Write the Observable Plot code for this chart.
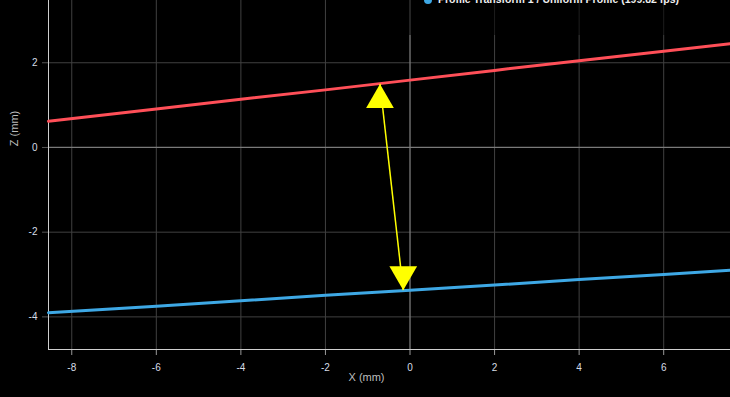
<!DOCTYPE html>
<html>
<head>
<meta charset="utf-8">
<script src="https://cdn.jsdelivr.net/npm/d3@7"></script>
<script src="https://cdn.jsdelivr.net/npm/@observablehq/plot@0.6"></script>
<style>
  html, body { margin: 0; padding: 0; background: #000; overflow: hidden; }
  #wrap { position: relative; width: 730px; height: 397px; }
  #legend { position: absolute; left: 400px; top: 0; width: 330px; height: 35px;
            background: rgba(0,0,0,0.55); overflow: hidden; }
  #legend .item { position: absolute; left: 24px; top: -7px; white-space: nowrap;
            font: bold 10.5px "Liberation Sans", Arial, sans-serif; color: #eee; }
  #legend .dot { display: inline-block; width: 8px; height: 8px; border-radius: 50%;
            background: #3ea8e5; margin-right: 6px; vertical-align: middle; }
</style>
</head>
<body>
<div id="wrap">
  <div id="chart"></div>
  <div id="legend"><div class="item"><span class="dot"></span>Profile Transform 1 / Uniform Profile (199.82 fps)</div></div>
</div>
<script>
// Data
const xDomain = [-8.55, 7.58];
const zDomain = [-4.77, 3.47];
const xTicks = [-8, -6, -4, -2, 0, 2, 4, 6];
const zTicks = [-4, -2, 0, 2];

const profileX = [-8.55, -6, -4, -2, 0, 2, 4, 6, 7.58];
const redZ  = [0.62, 0.91, 1.14, 1.36, 1.59, 1.82, 2.05, 2.27, 2.45];
const blueZ = [-3.90, -3.75, -3.62, -3.49, -3.37, -3.25, -3.12, -3.00, -2.90];

const arrowTop = {x: -0.71, z: 1.50};
const arrowBottom = {x: -0.16, z: -3.37};

const red = profileX.map((x, i) => ({x, z: redZ[i]}));
const blue = profileX.map((x, i) => ({x, z: blueZ[i]}));

const downTriangle = {
  draw(context, size) {
    const y = -Math.sqrt(size / (Math.sqrt(3) * 3));
    context.moveTo(0, -y * 2);
    context.lineTo(-Math.sqrt(3) * y, y);
    context.lineTo(Math.sqrt(3) * y, y);
    context.closePath();
  }
};

const chart = Plot.plot({
  width: 730,
  height: 397,
  marginLeft: 48,
  marginRight: 0,
  marginTop: 0,
  marginBottom: 48,
  style: {background: "#000", color: "#ccc", fontFamily: "'Liberation Sans', Arial, sans-serif", fontSize: "10px"},
  x: {domain: xDomain, label: null},
  y: {domain: zDomain, label: null},
  marks: [
    Plot.gridX(xTicks.filter(d => d !== 0), {stroke: "#404040", strokeOpacity: 1}),
    Plot.gridY(zTicks.filter(d => d !== 0), {stroke: "#404040", strokeOpacity: 1}),
    Plot.ruleX([0], {stroke: "#7a7a7a", strokeWidth: 1.3}),
    Plot.ruleY([0], {stroke: "#7a7a7a", strokeWidth: 1.3}),
    Plot.axisX({ticks: xTicks, tickSize: 6, tickPadding: 8, stroke: "#999", fill: "#d6dde6", tickFormat: d => String(d)}),
    Plot.axisY({ticks: zTicks, tickSize: 6, tickPadding: 5, stroke: "#555", fill: "#d6dde6", tickFormat: d => String(d)}),
    Plot.ruleX([xDomain[0]], {stroke: "#cfcfcf"}),
    Plot.ruleY([zDomain[0]], {stroke: "#cfcfcf"}),
    Plot.line(red, {x: "x", y: "z", stroke: "#ff4f58", strokeWidth: 3}),
    Plot.line(blue, {x: "x", y: "z", stroke: "#3ea8e5", strokeWidth: 3}),
    Plot.link([{x1: arrowTop.x, y1: arrowTop.z, x2: arrowBottom.x, y2: arrowBottom.z}],
      {x1: "x1", y1: "y1", x2: "x2", y2: "y2", stroke: "#ffff00", strokeWidth: 1.5}),
    Plot.dot([arrowTop], {x: "x", y: "z", symbol: "triangle", r: 10.3, fill: "#ffff00", stroke: "none", dy: 16}),
    Plot.dot([arrowBottom], {x: "x", y: "z", symbol: downTriangle, r: 10.3, fill: "#ffff00", stroke: "none", dy: -16}),
    Plot.text(["X (mm)"], {frameAnchor: "bottom-left", dx: 318, dy: 31, fill: "#bdbdbd", fontSize: 11, textAnchor: "middle"}),
    Plot.text(["Z (mm)"], {frameAnchor: "top-left", dx: -38, dy: 128, rotate: -90, fill: "#bdbdbd", fontSize: 11, textAnchor: "middle"})
  ]
});
document.getElementById("chart").appendChild(chart);
</script>
</body>
</html>
